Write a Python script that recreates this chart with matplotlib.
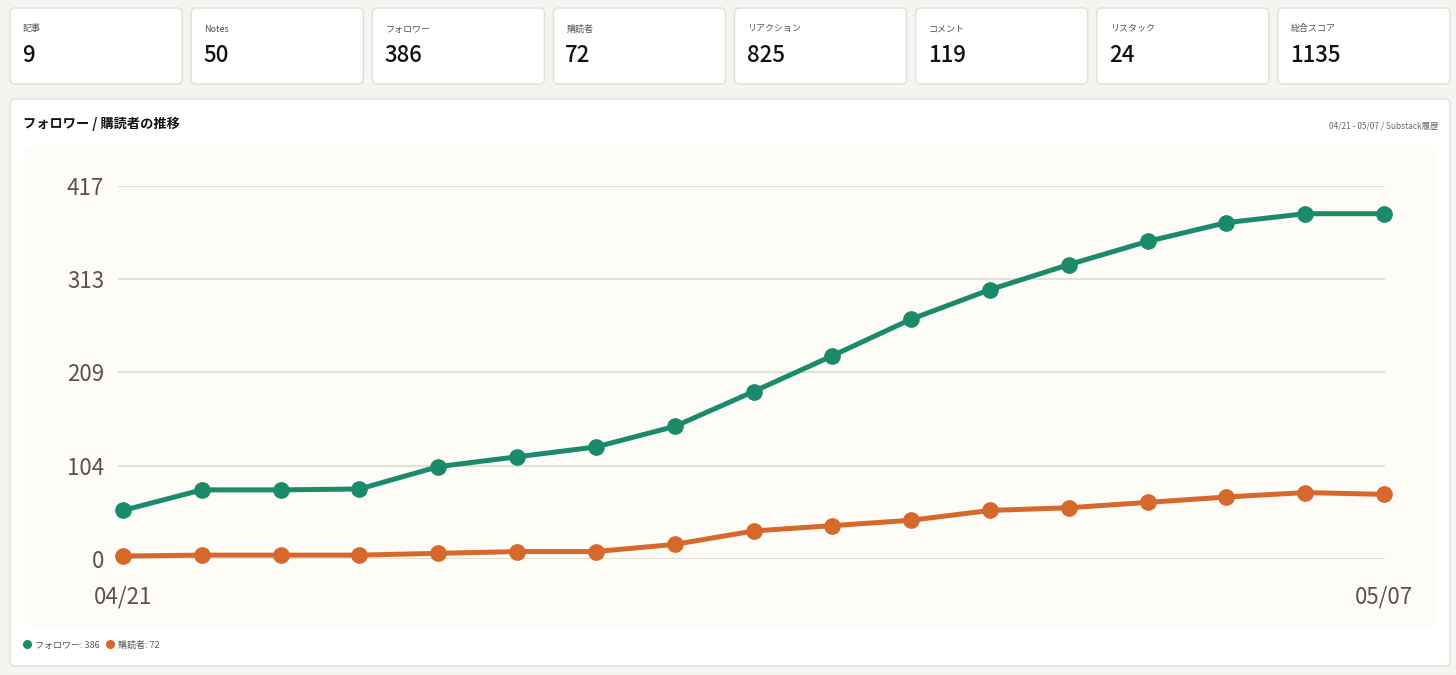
import matplotlib.pyplot as plt
from matplotlib.patches import FancyBboxPatch
from matplotlib.lines import Line2D

plt.rcParams['font.family'] = ['Noto Sans CJK JP', 'DejaVu Sans']

# summary cards
card_labels = ['記事', 'Notes', 'フォロワー', '購読者', 'リアクション', 'コメント', 'リスタック', '総合スコア']
card_values = [9, 50, 386, 72, 825, 119, 24, 1135]

# daily series 04/21 - 05/07
dates = ['04/21', '04/22', '04/23', '04/24', '04/25', '04/26', '04/27', '04/28', '04/29',
         '04/30', '05/01', '05/02', '05/03', '05/04', '05/05', '05/06', '05/07']
followers = [54, 77, 77, 78, 103, 114, 125, 148, 187, 227, 268, 301, 329, 355, 376, 386, 386]
subscribers = [3, 4, 4, 4, 6, 8, 8, 16, 31, 37, 43, 54, 57, 63, 69, 74, 72]
y_ticks = [0, 104, 209, 313, 417]

GREEN = '#1b8a6b'
ORANGE = '#d6682c'
TICK = '#5b5249'
W, H = 1456, 675

fig = plt.figure(figsize=(W / 100, H / 100), dpi=100)
fig.patch.set_facecolor('#f4f4f0')

# background axes in pixel units (origin top-left)
bg = fig.add_axes([0, 0, 1, 1])
bg.set_xlim(0, W)
bg.set_ylim(H, 0)
bg.axis('off')


def box(x0, y0, x1, y1, r, fc, ec):
    bg.add_patch(FancyBboxPatch((x0 + r, y0 + r), x1 - x0 - 2 * r, y1 - y0 - 2 * r,
                                boxstyle=f'round,pad={r}', fc=fc, ec=ec, lw=1))


# cards
gap = 9
cw = (1440 - 7 * gap) / 8
for i, (lab, val) in enumerate(zip(card_labels, card_values)):
    x0 = 10 + i * (cw + gap)
    box(x0, 8, x0 + cw, 84, 5, 'white', '#e0e0da')
    bg.text(x0 + 13, 29, lab, fontsize=6.5, color='#555555', va='center')
    bg.text(x0 + 12, 56, str(val), fontsize=16, color='#111111', va='center', fontweight='medium')

# main panel
box(10, 99, 1450, 666, 5, 'white', '#e0e0da')
bg.text(23, 124, 'フォロワー / 購読者の推移', fontsize=9.5, fontweight='bold', color='#111111', va='center')
bg.text(1438, 126, '04/21 - 05/07 / Substack履歴', fontsize=6, color='#666666', va='center', ha='right')
box(23, 145, 1438, 628, 14, '#fdfcf7', 'none')

# chart axes
x_first, x_last, y_zero, y_top = 123, 1384, 558.7, 186
left, right = 118, 1385
ax = fig.add_axes([left / W, 1 - y_zero / H, (right - left) / W, (y_zero - y_top) / H])
ax.patch.set_alpha(0)
step = (x_last - x_first) / (len(dates) - 1)
ax.set_xlim(-(x_first - left) / step, len(dates) - 1 + (right - x_last) / step)
ax.set_ylim(0, y_ticks[-1])
for s in ax.spines.values():
    s.set_visible(False)

xs = list(range(len(dates)))
ax.plot(xs, followers, color=GREEN, lw=3.6, marker='o', ms=11, clip_on=False, zorder=3)
ax.plot(xs, subscribers, color=ORANGE, lw=3.6, marker='o', ms=11, clip_on=False, zorder=3)

ax.set_yticks(y_ticks)
ax.set_yticklabels([str(v) for v in y_ticks])
ax.set_xticks([0, len(dates) - 1])
ax.set_xticklabels([dates[0], dates[-1]])
ax.tick_params(axis='y', length=0, pad=10, labelsize=16, labelcolor=TICK)
ax.tick_params(axis='x', length=0, pad=19, labelsize=16, labelcolor=TICK)
ax.grid(axis='y', color='#e3e0d5', lw=1.5)
ax.set_axisbelow(True)

# legend
handles = [Line2D([], [], color=GREEN, marker='o', ls='none', ms=5.5),
           Line2D([], [], color=ORANGE, marker='o', ls='none', ms=5.5)]
labels = [f'フォロワー: {followers[-1]}', f'購読者: {subscribers[-1]}']
fig.legend(handles, labels, loc='center left', bbox_to_anchor=(13 / W, 1 - 645 / H),
           ncol=2, frameon=False, fontsize=6.5, handletextpad=0.3, columnspacing=0.6,
           handlelength=1.2, labelcolor='#555555')

fig.savefig('out.png', dpi=100, facecolor=fig.get_facecolor())
